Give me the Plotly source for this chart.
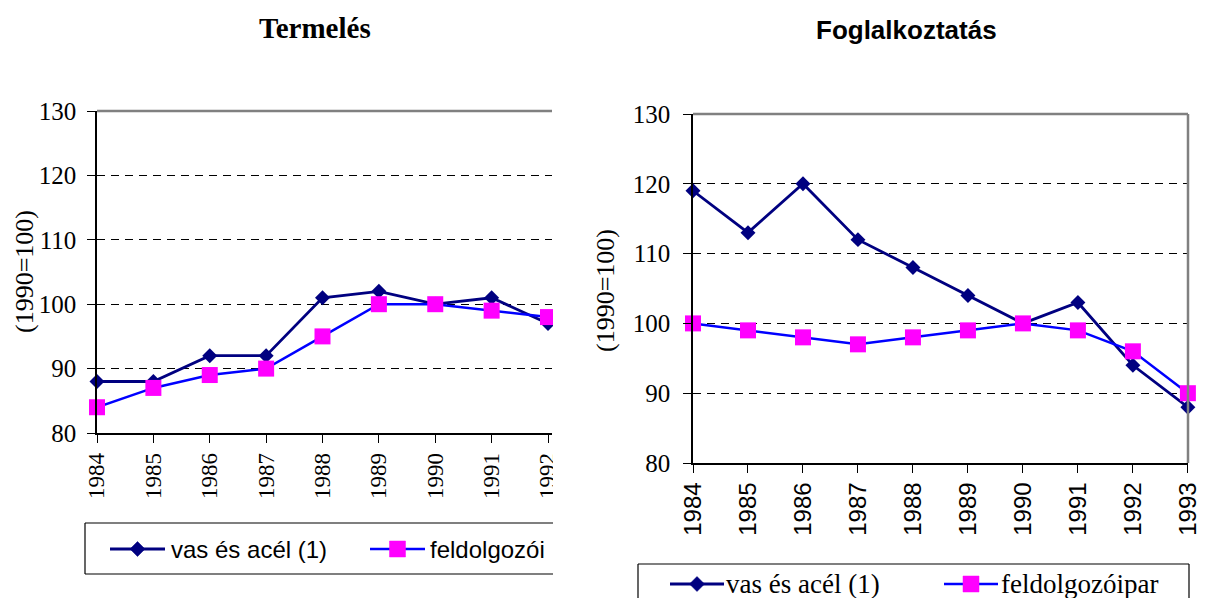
import plotly.graph_objects as go

# page body has an 8px default margin, so the figure is offset by 8px;
# the figure is sized so the page does not overflow the window
OX, OY = 8, 8
W, H = 1199, 590

# ---- data ----
years_prod = [1984, 1985, 1986, 1987, 1988, 1989, 1990, 1991, 1992]
prod_steel = [88, 88, 92, 92, 101, 102, 100, 101, 97]
prod_manuf = [84, 87, 89, 90, 95, 100, 100, 99, 98]

years_emp = [1984, 1985, 1986, 1987, 1988, 1989, 1990, 1991, 1992, 1993]
emp_steel = [119, 113, 120, 112, 108, 104, 100, 103, 94, 88]
emp_manuf = [100, 99, 98, 97, 98, 99, 100, 99, 96, 90]

y_ticks = [80, 90, 100, 110, 120, 130]
name_steel = "vas és acél (1)"
name_manuf = "feldolgozóipar"
name_manuf_clipped = "feldolgozói"
title_left = "Termelés"
title_right = "Foglalkoztatás"
ytitle = "(1990=100)"

NAVY = "#000080"
BLUE = "#0000FF"
MAGENTA = "#FF00FF"
GRAY = "#808080"
SERIF = "Liberation Serif, Times New Roman, serif"
SANS = "Liberation Sans, Arial, sans-serif"


def px(x):
    return (x - OX) / W


def py(y):
    return 1 - (y - OY) / H


fig = go.Figure()

# left chart traces
fig.add_trace(go.Scatter(x=years_prod, y=prod_steel, mode="lines+markers", name=name_steel,
                         line=dict(color=NAVY, width=2.8),
                         marker=dict(symbol="diamond", size=11.5, color=NAVY),
                         xaxis="x", yaxis="y", cliponaxis=False, showlegend=False))
fig.add_trace(go.Scatter(x=years_prod, y=prod_manuf, mode="lines+markers", name=name_manuf,
                         line=dict(color=BLUE, width=2.5),
                         marker=dict(symbol="square", size=16, color=MAGENTA),
                         xaxis="x", yaxis="y", cliponaxis=False, showlegend=False))
# right chart traces
fig.add_trace(go.Scatter(x=years_emp, y=emp_steel, mode="lines+markers", name=name_steel,
                         line=dict(color=NAVY, width=2.8),
                         marker=dict(symbol="diamond", size=11.5, color=NAVY),
                         xaxis="x2", yaxis="y2", cliponaxis=False, showlegend=False))
fig.add_trace(go.Scatter(x=years_emp, y=emp_manuf, mode="lines+markers", name=name_manuf,
                         line=dict(color=BLUE, width=2.5),
                         marker=dict(symbol="square", size=16, color=MAGENTA),
                         xaxis="x2", yaxis="y2", cliponaxis=False, showlegend=False))

# pixel geometry (screen coordinates)
L_x0, L_x1, L_y80, L_y130 = 97, 552, 433, 111
L_step = (548 - 97) / 8.0
R_x0, R_x1, R_y80, R_y130 = 693, 1188, 463, 114

grid = dict(showgrid=True, gridcolor="#000000", gridwidth=1, griddash="8px,6px")

fig.update_layout(
    template="none",
    width=W, height=H, margin=dict(l=0, r=0, t=0, b=0, pad=0),
    paper_bgcolor="white", plot_bgcolor="white", showlegend=False,
    xaxis=dict(domain=[px(L_x0), px(L_x1)], range=[1984, 1984 + (L_x1 - L_x0) / L_step],
               anchor="y", automargin=False, showgrid=False, zeroline=False, showline=True,
               linecolor="#000000", linewidth=1.5, ticks="outside", ticklen=8,
               tickcolor="#000000", tickwidth=1, ticklabeloverflow="allow",
               tickvals=years_prod, ticktext=[str(v) for v in years_prod], tickangle=-90,
               tickfont=dict(family=SERIF, size=23, color="#000000"), ticklabelstandoff=1),
    yaxis=dict(domain=[py(L_y80), py(L_y130)], range=[80, 130], anchor="x", automargin=False,
               zeroline=False, showline=True, linecolor="#000000", linewidth=1.5,
               ticks="outside", ticklen=8, tickcolor="#000000", tickwidth=1, tickvals=y_ticks,
               tickfont=dict(family=SERIF, size=25, color="#000000"), ticklabelstandoff=6, **grid),
    xaxis2=dict(domain=[px(R_x0), px(R_x1)], range=[1984, 1993.002], anchor="y2",
                automargin=False, showgrid=False, zeroline=False, showline=True,
                linecolor="#000000", linewidth=1.5, ticks="outside", ticklen=8,
                tickcolor="#000000", tickwidth=1, ticklabeloverflow="allow",
                tickvals=years_emp, ticktext=[str(v) for v in years_emp], tickangle=-90,
                tickfont=dict(family=SANS, size=24, color="#000000"), ticklabelstandoff=0),
    yaxis2=dict(domain=[py(R_y80), py(R_y130)], range=[80, 130], anchor="x2", automargin=False,
                zeroline=False, showline=True, linecolor="#000000", linewidth=1.5,
                ticks="outside", ticklen=8, tickcolor="#000000", tickwidth=1, tickvals=y_ticks,
                tickfont=dict(family=SERIF, size=25, color="#000000"), ticklabelstandoff=8, **grid),
)

shapes = []
# gray plot-area borders
shapes.append(dict(type="line", xref="x domain", yref="y domain", x0=0, x1=1, y0=1, y1=1,
                   line=dict(color=GRAY, width=2.5), layer="above"))
shapes.append(dict(type="line", xref="x2 domain", yref="y2 domain", x0=0, x1=1, y0=1, y1=1,
                   line=dict(color=GRAY, width=2.5), layer="above"))
shapes.append(dict(type="line", xref="x2 domain", yref="y2 domain", x0=1, x1=1, y0=0, y1=1,
                   line=dict(color=GRAY, width=2.5), layer="above"))
# clipping mask for the left chart (its right side is cut off in the original image)
shapes.append(dict(type="rect", xref="paper", yref="paper", x0=px(553), x1=px(590), y0=py(597),
                   y1=py(95), fillcolor="white", line=dict(width=0), layer="above"))


def legend_box(x0, x1, y0, y1, right_edge=True):
    edges = [(x0, y0, x1, y0), (x0, y0, x0, y1), (x0, y1, x1, y1)]
    if right_edge:
        edges.append((x1, y0, x1, y1))
    for a, b, c, d in edges:
        shapes.append(dict(type="line", xref="paper", yref="paper", x0=px(a), y0=py(b),
                           x1=px(c), y1=py(d), line=dict(color="#000000", width=1.2),
                           layer="above"))


def legend_symbol(xa, xb, yc, color, mcolor, kind, lw):
    shapes.append(dict(type="line", xref="paper", yref="paper", x0=px(xa), x1=px(xb),
                       y0=py(yc), y1=py(yc), line=dict(color=color, width=lw), layer="above"))
    xm = (xa + xb) / 2
    if kind == "diamond":
        r = 7.5
        path = (f"M {px(xm - r)} {py(yc)} L {px(xm)} {py(yc - r)} L {px(xm + r)} {py(yc)} "
                f"L {px(xm)} {py(yc + r)} Z")
    else:
        r = 8
        path = (f"M {px(xm - r)} {py(yc - r)} L {px(xm + r)} {py(yc - r)} L {px(xm + r)} {py(yc + r)} "
                f"L {px(xm - r)} {py(yc + r)} Z")
    shapes.append(dict(type="path", xref="paper", yref="paper", path=path, fillcolor=mcolor,
                       line=dict(color=mcolor, width=0.5), layer="above"))


# left legend (clipped on the right)
legend_box(85, 553, 523, 574, right_edge=False)
legend_symbol(110, 165, 549, NAVY, NAVY, "diamond", 2.8)
legend_symbol(370, 425, 549, BLUE, MAGENTA, "square", 2.5)
# right legend (clipped at the bottom)
legend_box(638, 1189, 564, 610)
legend_symbol(670, 724, 584, NAVY, NAVY, "diamond", 2.8)
legend_symbol(944, 998, 584, BLUE, MAGENTA, "square", 2.5)

fig.update_layout(shapes=shapes)

ann = []
ann.append(dict(text=f"<b>{title_left}</b>", x=px(315), y=py(28), xref="paper", yref="paper",
                showarrow=False, xanchor="center", yanchor="middle",
                font=dict(family=SERIF, size=29, color="#000000")))
ann.append(dict(text=f"<b>{title_right}</b>", x=px(906), y=py(30), xref="paper", yref="paper",
                showarrow=False, xanchor="center", yanchor="middle",
                font=dict(family=SANS, size=26, color="#000000")))
ann.append(dict(text=ytitle, x=px(24), y=py(272), xref="paper", yref="paper", textangle=-90,
                showarrow=False, xanchor="center", yanchor="middle",
                font=dict(family=SERIF, size=26, color="#000000")))
ann.append(dict(text=ytitle, x=px(605), y=py(291), xref="paper", yref="paper", textangle=-90,
                showarrow=False, xanchor="center", yanchor="middle",
                font=dict(family=SERIF, size=26, color="#000000")))
# legend texts
ann.append(dict(text=name_steel, x=px(169), y=py(549), xref="paper", yref="paper",
                showarrow=False, xanchor="left", yanchor="middle",
                font=dict(family=SANS, size=24, color="#000000")))
ann.append(dict(text=name_manuf_clipped, x=px(428), y=py(549), xref="paper", yref="paper",
                showarrow=False, xanchor="left", yanchor="middle",
                font=dict(family=SANS, size=24, color="#000000")))
ann.append(dict(text=name_steel, x=px(724), y=py(584), xref="paper", yref="paper",
                showarrow=False, xanchor="left", yanchor="middle",
                font=dict(family=SERIF, size=27, color="#000000")))
ann.append(dict(text=name_manuf, x=px(999), y=py(584), xref="paper", yref="paper",
                showarrow=False, xanchor="left", yanchor="middle",
                font=dict(family=SERIF, size=27, color="#000000")))
fig.update_layout(annotations=ann)

fig.write_html("out.html")
